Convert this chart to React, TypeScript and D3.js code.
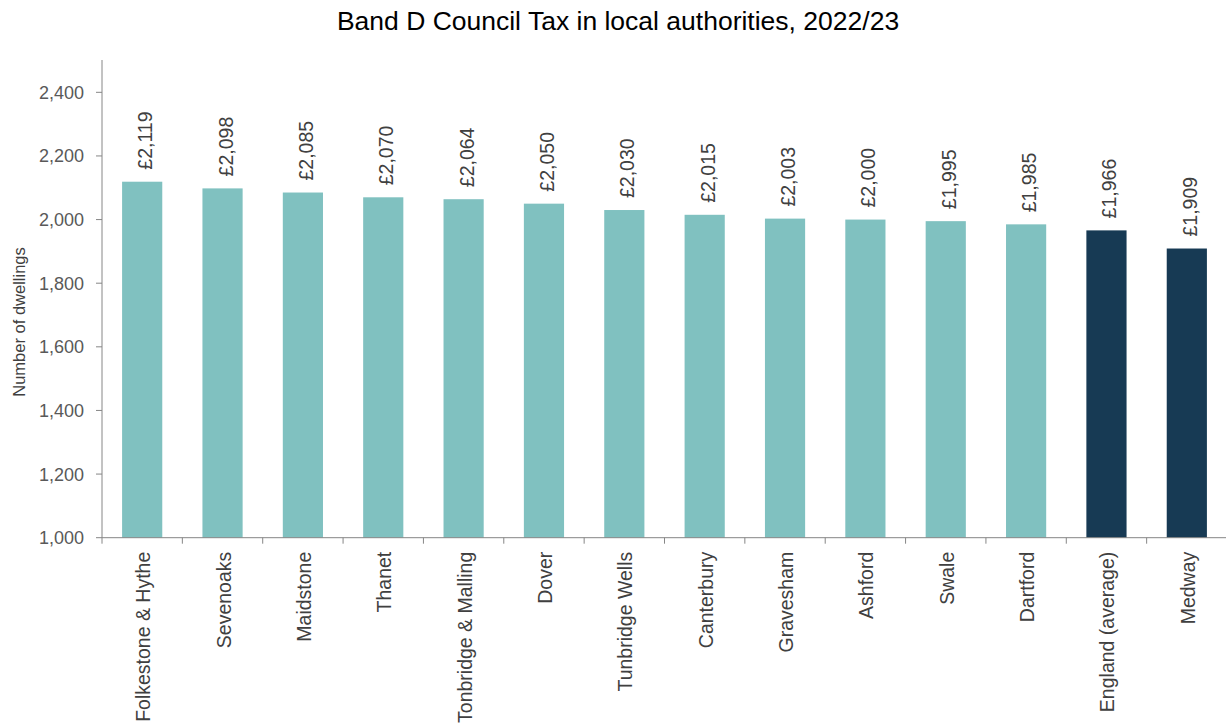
import React from "react";
import * as d3 from "d3";

const categories = ["Folkestone & Hythe","Sevenoaks","Maidstone","Thanet","Tonbridge & Malling","Dover","Tunbridge Wells","Canterbury","Gravesham","Ashford","Swale","Dartford","England (average)","Medway"];
const values = [2119,2098,2085,2070,2064,2050,2030,2015,2003,2000,1995,1985,1966,1909];
const highlight = ["England (average)","Medway"];
const yTicks = [1000,1200,1400,1600,1800,2000,2200,2400];

const W = 1226, H = 727;
const font = "Liberation Sans, Arial, sans-serif";

export default function App() {
  const x = d3.scaleBand<string>().domain(categories).range([102, 1227]).paddingInner(0.5).paddingOuter(0.25);
  const y = d3.scaleLinear().domain([1000, 2500]).range([537.7, 60.5]);
  const fmt = d3.format(",");
  const step = x.step();
  return (
    <svg width={W} height={H} style={{ position: "absolute", left: 0, top: 0, background: "#fff" }} fontFamily={font}>
      <text x={618} y={30} textAnchor="middle" fontSize={26.5} fill="#000">Band D Council Tax in local authorities, 2022/23</text>
      <text transform={`translate(25,322) rotate(-90)`} textAnchor="middle" fontSize={16.5} fill="#404040">Number of dwellings</text>
      {categories.map((c, i) => (
        <rect key={c} x={x(c)} y={y(values[i])} width={x.bandwidth()} height={y(1000) - y(values[i])}
          fill={highlight.includes(c) ? "#173A54" : "#80C1C0"} />
      ))}
      {categories.map((c, i) => (
        <text key={"v" + c} transform={`translate(${(x(c) as number) + x.bandwidth() / 2 + 10},${y(values[i]) - 12}) rotate(-90)`}
          fontSize={19.5} fill="#404040">£{fmt(values[i])}</text>
      ))}
      <line x1={102} x2={102} y1={60} y2={y(1000)} stroke="#868686" strokeWidth={1} />
      <line x1={102} x2={1227} y1={y(1000)} y2={y(1000)} stroke="#868686" strokeWidth={1} />
      {yTicks.map(t => (
        <g key={t}>
          <line x1={96} x2={102} y1={y(t)} y2={y(t)} stroke="#868686" />
          <text x={84} y={y(t) + 6.5} textAnchor="end" fontSize={18} fill="#595959">{fmt(t)}</text>
        </g>
      ))}
      {categories.map((c, i) => (
        <line key={"t" + c} x1={102 + i * step} x2={102 + i * step} y1={y(1000)} y2={y(1000) + 6} stroke="#868686" />
      ))}
      {categories.map(c => (
        <text key={"c" + c} transform={`translate(${(x(c) as number) + x.bandwidth() / 2 + 8},${y(1000) + 14}) rotate(-90)`}
          textAnchor="end" fontSize={19.5} fill="#404040">{c}</text>
      ))}
    </svg>
  );
}
